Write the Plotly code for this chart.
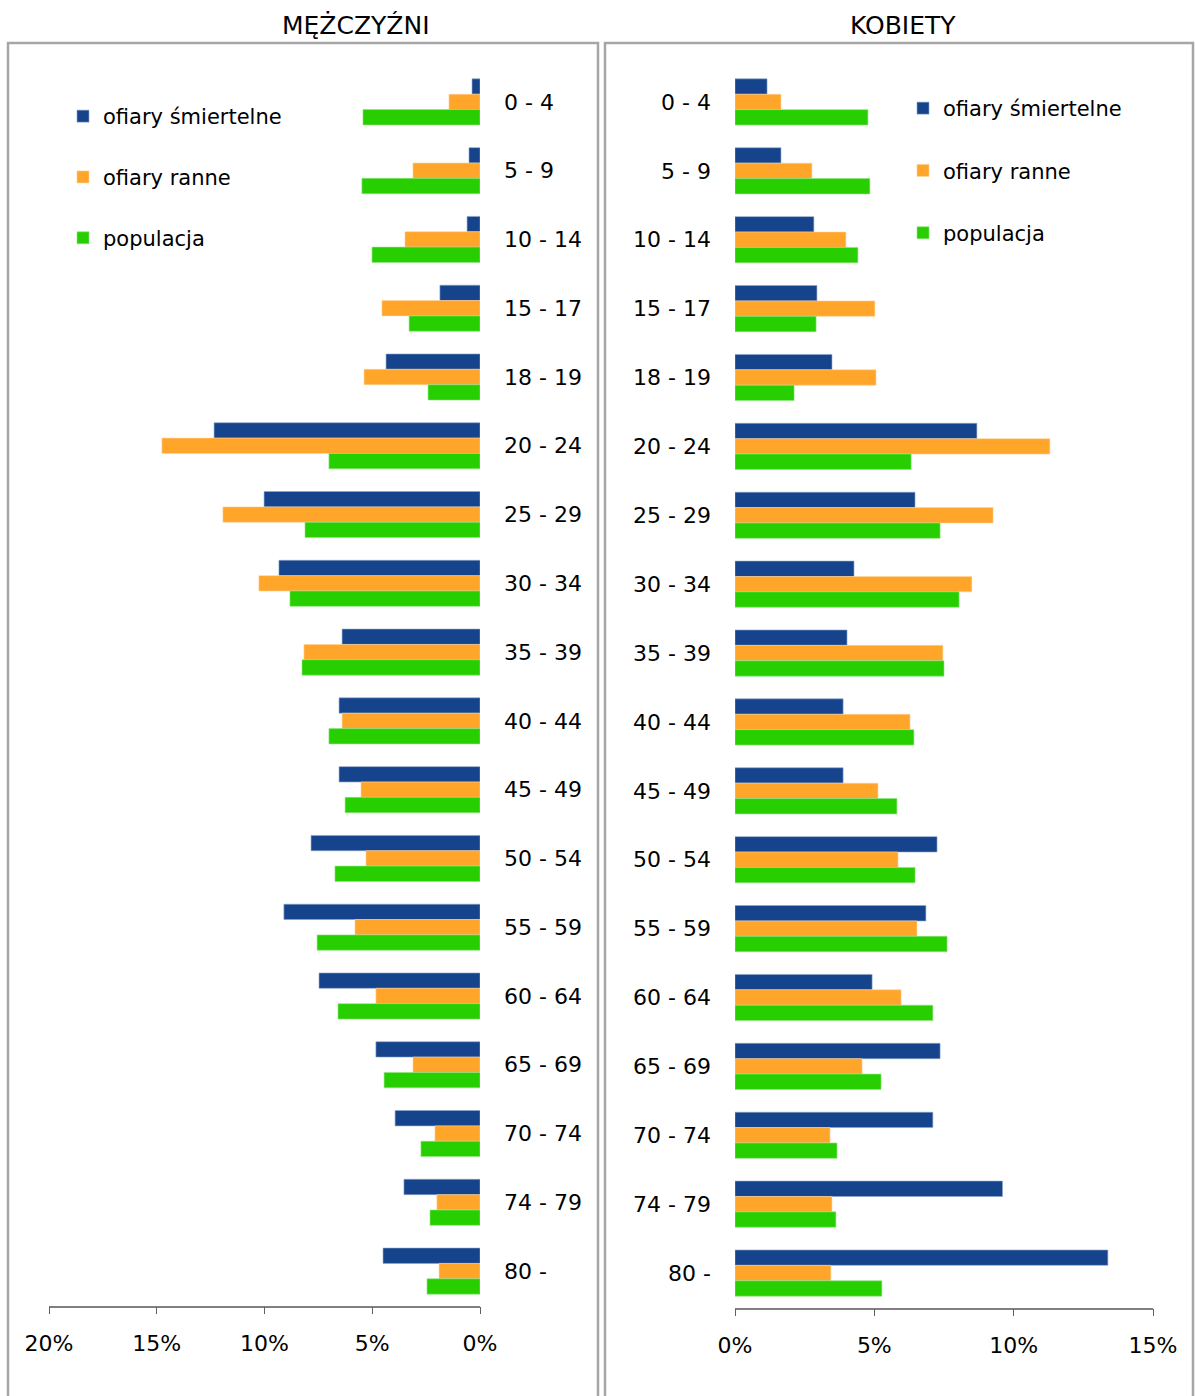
import plotly.graph_objects as go

# Age groups (top to bottom)
age_groups = ["0 - 4", "5 - 9", "10 - 14", "15 - 17", "18 - 19", "20 - 24",
              "25 - 29", "30 - 34", "35 - 39", "40 - 44", "45 - 49", "50 - 54",
              "55 - 59", "60 - 64", "65 - 69", "70 - 74", "74 - 79", "80 -"]

series_names = ["ofiary śmiertelne", "ofiary ranne", "populacja"]

# Men (%)
men_killed = [0.37, 0.51, 0.60, 1.86, 4.36, 12.34, 10.02, 9.33, 6.40, 6.54,
              6.54, 7.84, 9.10, 7.47, 4.83, 3.94, 3.53, 4.50]
men_injured = [1.44, 3.11, 3.48, 4.55, 5.38, 14.76, 11.93, 10.26, 8.17, 6.40,
               5.52, 5.29, 5.80, 4.83, 3.11, 2.09, 2.00, 1.90]
men_population = [5.43, 5.48, 5.01, 3.29, 2.41, 7.01, 8.12, 8.82, 8.26, 7.01,
                  6.26, 6.73, 7.56, 6.59, 4.45, 2.74, 2.32, 2.46]

# Women (%)
women_killed = [1.15, 1.65, 2.83, 2.94, 3.48, 8.68, 6.46, 4.27, 4.02, 3.88,
                3.88, 7.25, 6.85, 4.92, 7.36, 7.10, 9.60, 13.38]
women_injured = [1.65, 2.76, 3.98, 5.02, 5.06, 11.30, 9.26, 8.50, 7.46, 6.28,
                 5.13, 5.85, 6.53, 5.96, 4.56, 3.41, 3.48, 3.44]
women_population = [4.77, 4.84, 4.41, 2.91, 2.12, 6.32, 7.36, 8.04, 7.50, 6.42,
                    5.81, 6.46, 7.61, 7.10, 5.24, 3.66, 3.62, 5.27]

men_ticks = [20, 15, 10, 5, 0]
women_ticks = [0, 5, 10, 15]

colors = ["#15448C", "#FFA52A", "#27CF00"]
edge_colors = ["#8FA6CC", "#FFD29A", "#8FE480"]

W, H = 1195, 1396
FONT = "DejaVu Sans, Verdana, sans-serif"


def px_x(p):
    return p / W


def px_y(p):
    return 1 - p / H


fig = go.Figure()

men_values = [men_killed, men_injured, men_population]
women_values = [women_killed, women_injured, women_population]

for i, name in enumerate(series_names):
    fig.add_trace(go.Bar(
        y=age_groups, x=men_values[i], orientation="h", name=name,
        marker=dict(color=colors[i], line=dict(color=edge_colors[i], width=0.6)),
        xaxis="x", yaxis="y", legend="legend", legendgroup="m%d" % i,
        hoverinfo="x+y+name",
    ))

for i, name in enumerate(series_names):
    fig.add_trace(go.Bar(
        y=age_groups, x=women_values[i], orientation="h", name=name,
        marker=dict(color=colors[i], line=dict(color=edge_colors[i], width=0.6)),
        xaxis="x2", yaxis="y2", legend="legend2", legendgroup="w%d" % i,
        hoverinfo="x+y+name",
    ))

tick_font = dict(family=FONT, size=22, color="#000000")
legend_font = dict(family=FONT, size=21, color="#000000")

fig.update_layout(
    width=W, height=H,
    margin=dict(l=0, r=0, t=0, b=0, autoexpand=False),
    paper_bgcolor="white", plot_bgcolor="white",
    barmode="group", bargap=0.33, bargroupgap=0,
    font=dict(family=FONT, size=21, color="#000000"),
    xaxis=dict(
        domain=[px_x(49), px_x(480)], range=[20, 0], anchor="y",
        automargin=False,
        showgrid=False, zeroline=False, showline=True, linecolor="#808080",
        linewidth=1.5, ticks="outside", ticklen=7, tickcolor="#606060",
        tickwidth=1.2, tickvals=men_ticks,
        ticktext=["%d%%" % v for v in men_ticks], tickfont=tick_font,
        ticklabelstandoff=10, fixedrange=True,
    ),
    yaxis=dict(
        domain=[px_y(1305.5), px_y(67.5)], anchor="x", side="right",
        automargin=False,
        categoryorder="array", categoryarray=age_groups, autorange="reversed",
        showgrid=False, zeroline=False, showline=False, ticks="",
        tickfont=tick_font, ticklabelstandoff=23, fixedrange=True,
    ),
    xaxis2=dict(
        domain=[px_x(735), px_x(1153)], range=[0, 15], anchor="y2",
        automargin=False,
        showgrid=False, zeroline=False, showline=True, linecolor="#808080",
        linewidth=1.5, ticks="outside", ticklen=7, tickcolor="#606060",
        tickwidth=1.2, tickvals=women_ticks,
        ticktext=["%d%%" % v for v in women_ticks], tickfont=tick_font,
        ticklabelstandoff=10, fixedrange=True,
    ),
    yaxis2=dict(
        domain=[px_y(1307.5), px_y(67.5)], anchor="x2", side="left",
        automargin=False,
        categoryorder="array", categoryarray=age_groups, autorange="reversed",
        showgrid=False, zeroline=False, showline=False, ticks="",
        tickfont=tick_font, ticklabelstandoff=23, fixedrange=True,
    ),
    legend=dict(
        x=px_x(63), y=px_y(96), xanchor="left", yanchor="top",
        bgcolor="rgba(0,0,0,0)", borderwidth=0, tracegroupgap=30.5,
        font=legend_font, itemclick=False, itemdoubleclick=False,
    ),
    legend2=dict(
        x=px_x(903), y=px_y(88), xanchor="left", yanchor="top",
        bgcolor="rgba(0,0,0,0)", borderwidth=0, tracegroupgap=32,
        font=legend_font, itemclick=False, itemdoubleclick=False,
    ),
    showlegend=True,
    shapes=[
        dict(type="rect", xref="paper", yref="paper",
             x0=px_x(8), x1=px_x(598), y0=px_y(1420), y1=px_y(43),
             line=dict(color="#A6A6A6", width=2.5), fillcolor="rgba(0,0,0,0)",
             layer="below"),
        dict(type="rect", xref="paper", yref="paper",
             x0=px_x(605), x1=px_x(1193), y0=px_y(1420), y1=px_y(43),
             line=dict(color="#A6A6A6", width=2.5), fillcolor="rgba(0,0,0,0)",
             layer="below"),
    ],
    annotations=[
        dict(text="MĘŻCZYŹNI", xref="paper", yref="paper", x=px_x(356),
             y=px_y(25), xanchor="center", yanchor="middle", showarrow=False,
             font=dict(family=FONT, size=25, color="#000000")),
        dict(text="KOBIETY", xref="paper", yref="paper", x=px_x(903),
             y=px_y(25), xanchor="center", yanchor="middle", showarrow=False,
             font=dict(family=FONT, size=25, color="#000000")),
    ],
)

fig.write_html("out.html", config={"displayModeBar": False})
